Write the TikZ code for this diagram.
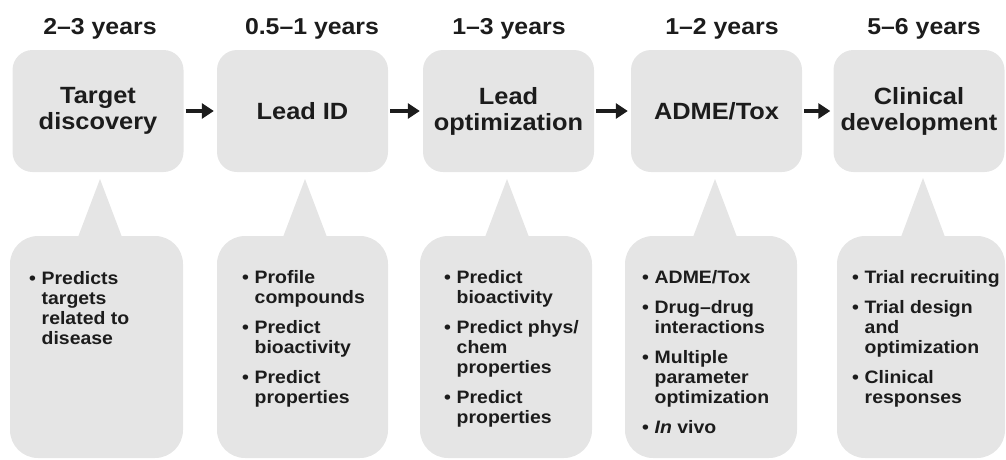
\documentclass[tikz,border=0pt]{standalone}
\usepackage{fontspec}
\setmainfont[FakeStretch=1.08]{Liberation Sans}
\usetikzlibrary{arrows.meta}
\definecolor{boxgray}{RGB}{229,229,229}
\definecolor{ink}{RGB}{28,28,28}
\newcommand\bmark{\makebox[12.5pt][l]{•}}
\tikzset{
  stage/.style={rectangle, rounded corners=20pt, fill=boxgray, minimum width=171pt,
    minimum height=122pt, inner sep=0pt, align=center,
    font=\fontsize{23.5}{26}\selectfont\bfseries, text=ink},
  years/.style={anchor=base, inner sep=0pt, font=\fontsize{23}{26}\selectfont\bfseries, text=ink},
  callout/.style={rectangle, rounded corners=28pt, fill=boxgray, inner sep=0pt,
    minimum height=222pt},
  pointer/.style={fill=boxgray},
  bullets/.style={anchor=base west, inner sep=0pt,
    font=\fontsize{18}{20}\selectfont\bfseries, text=ink},
  flow/.style={line width=4.5pt, -{Triangle[width=15pt,length=12pt]}, draw=ink,
    shorten <=2pt, shorten >=3pt},
}
\begin{document}
\begin{tikzpicture}[x=1pt,y=-1pt]
\useasboundingbox (0,0) rectangle (1006,459);

% year labels
\node[years] (y1) at (100,34) {2–3 years};
\node[years] (y2) at (312,34) {0.5–1 years};
\node[years] (y3) at (509,34) {1–3 years};
\node[years] (y4) at (722,34) {1–2 years};
\node[years] (y5) at (924,34) {5–6 years};

% stage boxes
\node[stage] (s1) at (98,111)    {Target\\discovery};
\node[stage] (s2) at (302.5,111) {Lead ID};
\node[stage] (s3) at (508.5,111) {Lead\\optimization};
\node[stage] (s4) at (716.5,111) {ADME/Tox};
\node[stage] (s5) at (919,111)   {Clinical\\development};

\draw[flow] (s1.east) -- (s2.west);
\draw[flow] (s2.east) -- (s3.west);
\draw[flow] (s3.east) -- (s4.west);
\draw[flow] (s4.east) -- (s5.west);

% callout pointers
\fill[pointer] (100,179) -- (75,245) -- (125,245) -- cycle;
\fill[pointer] (305,179) -- (280,245) -- (330,245) -- cycle;
\fill[pointer] (507,179) -- (482,245) -- (532,245) -- cycle;
\fill[pointer] (715,179) -- (690,245) -- (740,245) -- cycle;
\fill[pointer] (923,178) -- (898,245) -- (948,245) -- cycle;

% callout bodies
\node[callout, minimum width=173pt] (c1) at (96.5,347) {};
\node[callout, minimum width=171pt] (c2) at (302.5,347) {};
\node[callout, minimum width=172pt] (c3) at (506,347) {};
\node[callout, minimum width=172pt] (c4) at (711,347) {};
\node[callout, minimum width=168pt] (c5) at (921,347) {};

% bullet texts
\node[bullets] (t1) at (29,284) {\begin{tabular}[t]{@{}l@{}l@{}}
\bmark & Predicts\\ & targets\\ & related to\\ & disease
\end{tabular}};
\node[bullets] (t2) at (242,283) {\begin{tabular}[t]{@{}l@{}l@{}}
\bmark & Profile\\ & compounds\\[10pt]
\bmark & Predict\\ & bioactivity\\[10pt]
\bmark & Predict\\ & properties
\end{tabular}};
\node[bullets] (t3) at (444,283) {\begin{tabular}[t]{@{}l@{}l@{}}
\bmark & Predict\\ & bioactivity\\[10pt]
\bmark & Predict phys/\\ & chem\\ & properties\\[10pt]
\bmark & Predict\\ & properties
\end{tabular}};
\node[bullets] (t4) at (642,283) {\begin{tabular}[t]{@{}l@{}l@{}}
\bmark & ADME/Tox\\[10pt]
\bmark & Drug–drug\\ & interactions\\[10pt]
\bmark & Multiple\\ & parameter\\ & optimization\\[10pt]
\bmark & \textit{In} vivo
\end{tabular}};
\node[bullets] (t5) at (852,283) {\begin{tabular}[t]{@{}l@{}l@{}}
\bmark & Trial recruiting\\[10pt]
\bmark & Trial design\\ & and\\ & optimization\\[10pt]
\bmark & Clinical\\ & responses
\end{tabular}};
\end{tikzpicture}
\end{document}
